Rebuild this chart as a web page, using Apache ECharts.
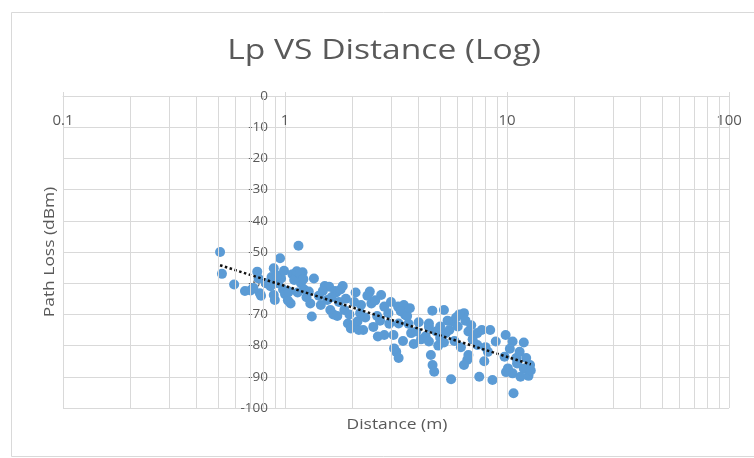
<!DOCTYPE html>
<html>
<head>
<meta charset="utf-8">
<script src="https://cdn.jsdelivr.net/npm/echarts@6/dist/echarts.min.js"></script>
<style>html,body{margin:0;padding:0;background:#fff}#c{width:754px;height:458px}</style>
</head>
<body>
<div id="c"></div>
<script>
// ---- data ----
const distance = [
  0.51,0.52,0.59,0.66,0.70,0.75,0.76,0.77,0.72,0.78,0.82,0.86,
  0.89,0.95,0.89,0.90,0.93,0.96,0.98,0.87,0.92,0.99,1.00,
  1.06,1.03,1.08,1.12,1.15,1.18,1.04,1.10,1.20,1.22,1.28,1.30,1.32,1.25,1.13,1.17,1.21,1.14,
  1.42,1.51,1.58,1.82,1.55,1.60,1.70,1.75,1.85,1.92,2.02,1.95,1.45,1.65,1.68,1.35,1.48,1.62,1.78,1.88,1.72,1.98,
  2.12,2.18,2.05,2.41,2.45,2.71,2.80,2.92,2.62,2.80,2.30,2.50,2.25,2.60,2.95,2.08,2.20,2.35,2.55,2.68,2.15,
  3.23,3.43,3.48,3.25,3.08,3.70,3.17,3.25,3.10,3.60,3.90,4.10,4.30,3.40,3.80,4.00,4.45,3.00,3.32,3.55,3.65,
  4.61,5.20,6.40,4.45,5.00,5.70,6.00,6.70,4.45,4.54,4.62,4.70,5.60,6.62,6.70,6.40,5.30,5.80,6.20,4.90,5.50,5.90,6.10,6.50,6.90,5.40,4.80,5.00,5.20,
  7.35,7.70,8.40,7.50,8.60,8.20,8.90,7.35,7.00,8.00,7.90,
  9.86,10.6,11.9,9.75,10.1,10.6,11.1,11.9,12.5,12.7,11.4,10.7,10.3,11.5,12.2,9.9,12.8,11.0
];
const pathLoss = [
  -50.0,-57.0,-60.4,-62.5,-62.3,-56.3,-58.5,-63.2,-61.5,-64.0,-60.0,-61.0,
  -55.2,-52.0,-63.8,-65.4,-60.0,-58.5,-62.0,-58.0,-57.5,-56.0,-63.5,
  -66.5,-65.5,-57.1,-57.9,-48.0,-60.0,-62.7,-59.0,-56.5,-62.0,-62.7,-66.5,-70.7,-64.5,-56.2,-57.0,-58.7,-63.0,
  -64.0,-60.9,-61.1,-60.9,-65.4,-68.6,-63.0,-66.0,-68.6,-72.9,-73.9,-70.0,-67.0,-70.0,-62.5,-58.5,-62.5,-64.5,-62.0,-65.0,-70.5,-74.5,
  -72.3,-69.6,-66.0,-62.7,-66.5,-63.8,-67.5,-69.6,-77.1,-76.6,-71.0,-74.0,-75.0,-70.5,-73.0,-63.0,-67.0,-64.0,-65.5,-72.0,-75.0,
  -67.5,-67.0,-70.2,-72.9,-76.6,-76.0,-82.0,-84.0,-80.9,-73.0,-75.5,-78.0,-77.0,-78.5,-79.5,-72.5,-74.0,-66.0,-69.0,-70.5,-68.0,
  -68.8,-68.6,-69.6,-72.9,-73.9,-72.3,-73.9,-75.5,-78.7,-83.0,-86.2,-88.4,-90.8,-84.6,-83.0,-86.2,-76.0,-78.5,-80.5,-80.0,-75.0,-71.0,-70.0,-72.0,-73.5,-72.0,-75.5,-77.5,-79.0,
  -76.0,-75.0,-75.0,-90.0,-91.0,-82.0,-78.7,-79.8,-78.0,-80.5,-85.0,
  -76.6,-78.7,-79.0,-83.6,-87.3,-88.9,-85.7,-87.3,-89.7,-86.2,-82.0,-95.3,-81.0,-90.0,-84.0,-88.5,-88.0,-84.0
];
const minorX = [0.2,0.3,0.4,0.5,0.6,0.7,0.8,0.9,2,3,4,5,6,7,8,9,20,30,40,50,60,70,80,90];

// ---- logarithmic trendline (least squares on ln x) ----
const n = distance.length;
let sx=0, sy=0, sxx=0, sxy=0;
for (let i=0;i<n;i++){ const lx=Math.log(distance[i]); sx+=lx; sy+=pathLoss[i]; sxx+=lx*lx; sxy+=lx*pathLoss[i]; }
const slope = (n*sxy - sx*sy)/(n*sxx - sx*sx);
const icpt = (sy - slope*sx)/n;
const xMin = Math.min(...distance), xMax = Math.max(...distance);
const trend = [[xMin, icpt+slope*Math.log(xMin)], [xMax, icpt+slope*Math.log(xMax)]];

const points = distance.map((d,i)=>[d, pathLoss[i]]);
const gridColor = '#d9d9d9';
const textColor = '#595959';
const font = 'Open Sans';

const chart = echarts.init(document.getElementById('c'), null, {renderer:'canvas'});
chart.setOption({
  backgroundColor:'#fff',
  animation:false,
  grid:{left:63, right:25, top:96, bottom:50},
  xAxis:{type:'log', logBase:10, min:0.1, max:100, position:'top',
    axisLine:{show:true, lineStyle:{color:gridColor}},
    axisTick:{show:true, length:4, inside:false, lineStyle:{color:gridColor}},
    axisLabel:{inside:true, margin:17, fontFamily:font, fontSize:15, color:textColor,
      formatter:v=>String(v)},
    splitLine:{show:true, lineStyle:{color:gridColor}},
    minorTick:{show:false}, minorSplitLine:{show:false}},
  yAxis:{type:'value', min:-100, max:0, interval:10, position:'left', offset:-222,
    axisLine:{show:true, onZero:false, lineStyle:{color:gridColor}},
    axisTick:{show:false},
    axisLabel:{margin:17, fontFamily:font, fontSize:13.5, color:textColor},
    splitLine:{show:true, lineStyle:{color:gridColor}}},
  graphic:[
    {type:'rect', left:9, top:10, shape:{width:770, height:444}, style:{fill:'none', stroke:'#d9d9d9', lineWidth:1}, silent:true, z:-10},
    {type:'text', x:384, y:51, scaleX:1.2, style:{text:'Lp VS Distance (Log)', fontFamily:font, fontSize:28, fill:textColor, align:'center', verticalAlign:'middle'}},
    {type:'text', x:50, y:252, rotation:Math.PI/2, scaleX:1.2, style:{text:'Path Loss (dBm)', fontFamily:font, fontSize:14.5, fill:textColor, align:'center', verticalAlign:'middle'}},
    {type:'text', x:397, y:425, scaleX:1.2, style:{text:'Distance (m)', fontFamily:font, fontSize:14.5, fill:textColor, align:'center', verticalAlign:'middle'}}
  ],
  series:[
    {type:'scatter', data:points, symbol:'circle', symbolSize:10,
      itemStyle:{color:'#5B9BD5', opacity:1}, z:3,
      markLine:{silent:true, symbol:'none', label:{show:false}, animation:false,
        lineStyle:{color:gridColor, type:'solid', width:1},
        data:minorX.map(v=>({xAxis:v}))}},
    {type:'line', data:trend, symbol:'none', z:4,
      lineStyle:{color:'#111', width:2.5, type:'dotted'}}
  ]
});
</script>
</body>
</html>
